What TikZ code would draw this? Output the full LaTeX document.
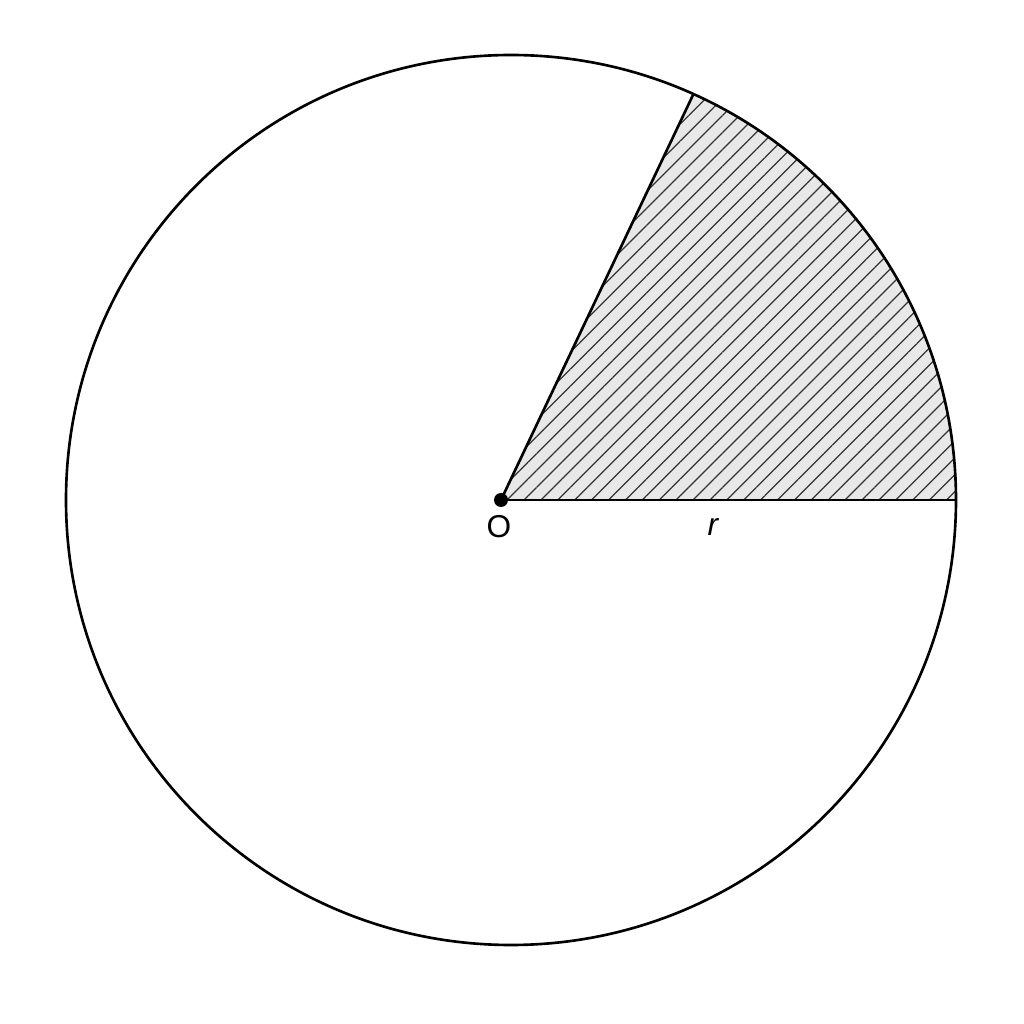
\documentclass[tikz,border=0pt]{standalone}
\usepackage{fontspec}
\setmainfont{Liberation Sans}
\usepackage{tikz}
\usetikzlibrary{calc,patterns.meta}

\begin{document}
\begin{tikzpicture}[
    outline/.style={line width=0.75pt, black},
    hatch/.style={pattern={Lines[angle=45, distance=3.4pt, line width=0.35pt]}, pattern color=black!80},
    lbl/.style={font=\fontsize{9}{10}\selectfont}
]
    \useasboundingbox (0,0) rectangle (10.24,10.24);

    % Centre of circle and point O
    \coordinate (C) at (5.11,5.24);
    \coordinate (O) at (5.01,5.24);
    \coordinate (A) at ($(C)+(0:4.45)$);
    \coordinate (B) at ($(C)+(65.8:4.45)$);

    % Shaded sector
    \fill[gray!18] (O) -- (A) arc[start angle=0, end angle=65.8, radius=4.45] -- cycle;
    \path[hatch] (O) -- (A) arc[start angle=0, end angle=65.8, radius=4.45] -- cycle;

    % Circle
    \draw[outline] (C) circle (4.45);

    % Radii
    \draw[outline] (O) -- (A);
    \draw[outline] (O) -- (B);

    % Centre point
    \fill (O) circle (0.07);

    % Labels
    \node[lbl] (lO) at (4.99,4.97) {O};
    \node[lbl] (lr) at (7.13,4.97) {\itshape r};
\end{tikzpicture}
\end{document}
